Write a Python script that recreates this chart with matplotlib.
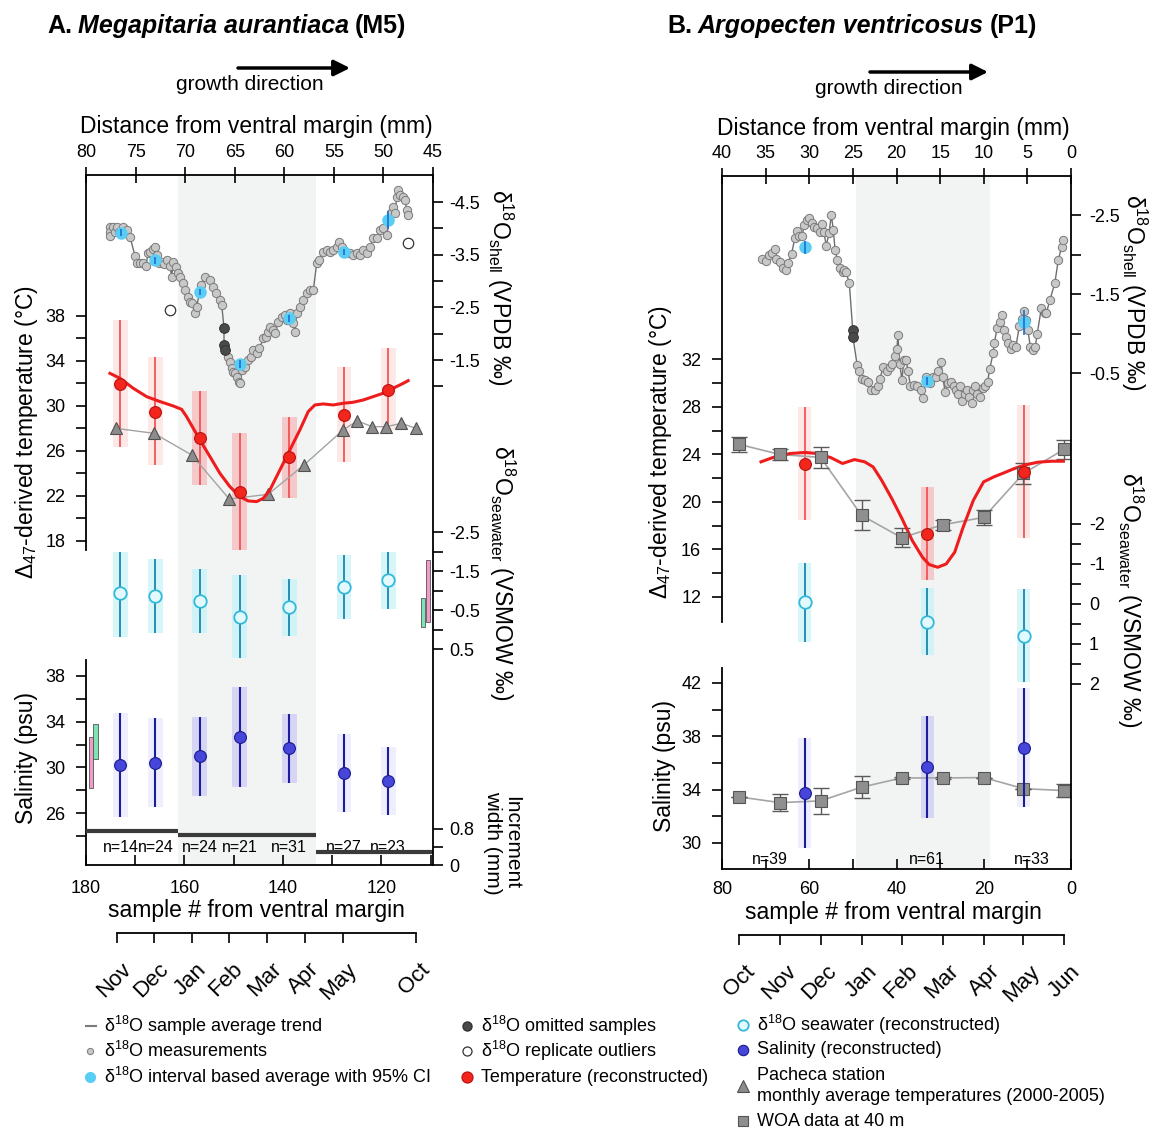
import numpy as np
import matplotlib.pyplot as plt
from matplotlib.transforms import ScaledTranslation, blended_transform_factory

plt.rcParams['font.family'] = ['Liberation Sans', 'DejaVu Sans']
plt.rcParams['mathtext.fontset'] = 'custom'
plt.rcParams['mathtext.rm'] = 'Liberation Sans'
plt.rcParams['mathtext.it'] = 'Liberation Sans:italic'
plt.rcParams['mathtext.bf'] = 'Liberation Sans:bold'
plt.rcParams['axes.unicode_minus'] = False
plt.rcParams['axes.linewidth'] = 1.3

# ---------------- panel A : Megapitaria aurantiaca (M5) ----------------
# shell d18O measurements (distance mm, permil VPDB)
sh_d_A = [77.58, 77.58, 77.58, 77.24, 77.07, 76.91, 76.64, 76.30, 76.07, 75.90, 75.56, 75.06, 74.89, 74.55,
          74.22, 73.98, 73.71, 73.54, 73.27, 73.04, 72.87, 72.60, 72.37, 72.10, 71.86, 71.53, 71.36, 71.19,
          70.92, 70.69, 70.52, 70.25, 70.01, 69.68, 69.51, 69.34, 69.00, 68.84, 68.40, 67.99, 67.49, 67.16,
          66.89, 66.48, 66.31, 66.08, 66.08, 65.98, 65.64, 65.47, 65.31, 65.14, 64.97, 64.80, 64.53, 64.47,
          64.30, 63.96, 63.62, 63.39, 63.12, 62.78, 62.51, 62.11, 61.88, 61.61, 61.44, 61.17, 60.93, 60.60,
          60.26, 59.93, 59.76, 59.42, 59.15, 58.92, 58.75, 58.41, 58.08, 57.74, 57.40, 57.07, 56.73, 56.46,
          56.13, 55.72, 55.39, 55.05, 54.71, 54.44, 54.21, 53.70, 53.37, 53.03, 52.70, 52.36, 52.02, 51.69,
          51.35, 51.02, 50.68, 50.34, 50.01, 49.67, 49.27, 49.00, 48.83, 48.66, 48.49, 48.33, 47.99, 47.82,
          47.65, 47.49]
sh_v_A = [-4.03, -3.94, -3.86, -4.03, -3.94, -4.03, -3.94, -4.03, -3.94, -3.97, -3.84, -3.48, -3.34, -3.34,
          -3.34, -3.29, -3.53, -3.56, -3.60, -3.65, -3.49, -3.34, -3.37, -3.32, -3.39, -3.29, -3.08, -3.37,
          -3.27, -3.15, -3.08, -2.96, -2.83, -2.70, -2.61, -2.58, -2.39, -2.51, -2.92, -3.08, -3.02, -2.89,
          -2.77, -2.64, -2.55, -2.10, -1.79, -1.69, -1.56, -1.47, -1.34, -1.28, -1.25, -1.18, -1.09, -1.06,
          -1.31, -1.37, -1.50, -1.56, -1.69, -1.63, -1.72, -1.91, -1.94, -2.04, -2.13, -2.07, -2.01, -2.23,
          -2.32, -2.36, -2.26, -2.39, -2.20, -2.04, -2.39, -2.51, -2.64, -2.77, -2.83, -2.83, -3.34, -3.40,
          -3.56, -3.59, -3.56, -3.59, -3.65, -3.75, -3.65, -3.53, -3.53, -3.49, -3.53, -3.49, -3.59, -3.53,
          -3.65, -3.81, -3.81, -3.97, -4.00, -3.87, -4.29, -4.41, -4.29, -4.60, -4.73, -4.63, -4.60, -4.54,
          -4.35, -4.25]
om_d_A = [66.08, 66.08, 65.98]
om_v_A = [-2.10, -1.79, -1.69]
out_d_A = [71.53, 47.49]
out_v_A = [-2.45, -3.73]
avg_d_A = [76.50, 73.04, 68.50, 64.50, 59.49, 53.94, 49.50]
avg_v_A = [-3.92, -3.39, -2.79, -1.42, -2.29, -3.55, -4.15]
avg_ci_A = [0.06, 0.06, 0.06, 0.08, 0.06, 0.06, 0.17]

# interval reconstructions (sample # from ventral margin)
iv_A = [173.0, 165.9, 156.9, 148.8, 138.7, 127.6, 118.6]
temp_A = [31.96, 29.50, 27.13, 22.33, 25.44, 29.20, 31.42]
temp_lo_A = [26.33, 24.76, 22.98, 17.20, 21.79, 25.05, 27.90]
temp_hi_A = [37.64, 34.38, 31.33, 27.57, 28.99, 33.49, 35.13]
sw_A = [-0.93, -0.86, -0.73, -0.33, -0.57, -1.09, -1.26]
sw_lo_A = [-2.00, -1.81, -1.55, -1.40, -1.29, -1.91, -1.98]
sw_hi_A = [0.18, 0.10, 0.10, 0.74, 0.17, -0.26, -0.53]
sal_A = [30.20, 30.41, 31.02, 32.66, 31.66, 29.53, 28.83]
sal_lo_A = [25.68, 26.50, 27.52, 28.25, 28.66, 26.12, 25.82]
sal_hi_A = [34.73, 34.35, 34.44, 37.01, 34.67, 32.92, 31.81]
n_A = [14, 24, 24, 21, 31, 27, 23]

# temperature from d18O (smoothed)
red_x_A = [175.13, 173.09, 170.39, 167.68, 164.97, 162.27, 160.57, 159.56, 158.20, 156.85, 154.82, 152.79,
           150.76, 148.73, 147.04, 145.34, 143.99, 142.64, 140.61, 138.58, 136.55, 134.85, 133.50, 131.81,
           129.78, 127.75, 125.72, 123.69, 121.66, 119.63, 117.60, 115.57, 114.55]
red_T_A = [32.90, 32.46, 31.57, 30.83, 30.39, 30.00, 29.70, 29.05, 28.01, 26.98, 25.50, 24.01, 22.83, 21.94,
           21.56, 21.50, 21.79, 22.53, 24.31, 26.09, 27.87, 29.50, 30.09, 30.18, 30.09, 30.24, 30.33, 30.53,
           30.83, 31.13, 31.57, 32.01, 32.25]

# Pacheca station monthly temperatures
pach_x_A = [173.9, 166.2, 158.5, 150.9, 143.0, 135.7, 127.75, 124.9, 121.8, 119.0, 115.9, 113.0]
pach_T_A = [28.01, 27.57, 25.64, 21.73, 22.15, 24.76, 27.87, 28.67, 28.16, 28.16, 28.46, 28.01]

# increment width (mm) per growth segment
inc_edges_A = [180, 161.3, 133.2, 109.5]
inc_w_A = [0.76, 0.67, 0.29]

# observed ranges (pink / green bars)
rng_sal_x_A = [179.0, 178.05]
rng_sal_lo_A = [28.16, 30.70]
rng_sal_hi_A = [32.69, 33.80]
rng_sw_x_A = [110.5, 111.5]
rng_sw_lo_A = [-1.77, -0.80]
rng_sw_hi_A = [-0.20, -0.07]

winter_A = (161.3, 133.2)
month_pos_A = [173.7, 166.2, 158.5, 151.0, 143.2, 135.5, 127.8, 113.0]
month_lab_A = ['Nov', 'Dec', 'Jan', 'Feb', 'Mar', 'Apr', 'May', 'Oct']

# ---------------- panel B : Argopecten ventricosus (P1) ----------------
sh_d_B = [35.41, 34.95, 34.56, 34.28, 33.97, 33.78, 33.39, 33.00, 32.61, 32.42, 32.03, 31.64, 31.44, 31.13,
          30.86, 30.55, 30.27, 30.00, 29.69, 29.42, 29.10, 28.79, 28.52, 28.33, 28.05, 27.74, 27.47, 27.24,
          27.04, 26.77, 26.50, 26.18, 25.99, 25.80, 25.41, 25.02, 24.98, 24.51, 24.35, 23.96, 23.57, 23.26,
          22.87, 22.48, 22.17, 21.90, 21.51, 21.12, 20.73, 20.46, 20.15, 19.95, 19.84, 19.64, 19.37, 19.17,
          18.90, 18.67, 18.40, 18.01, 17.62, 17.23, 16.92, 16.64, 16.18, 15.86, 15.48, 15.20, 14.89, 14.70,
          14.42, 14.11, 13.72, 13.41, 13.14, 12.94, 12.75, 12.44, 12.16, 11.97, 11.66, 11.39, 11.19, 11.00,
          10.73, 10.41, 10.10, 9.83, 9.56, 9.32, 8.93, 8.78, 8.47, 8.15, 7.88, 7.69, 7.49, 7.22, 6.91, 6.60,
          6.32, 5.93, 5.62, 5.43, 5.15, 4.96, 4.65, 4.38, 4.10, 3.87, 3.40, 3.01, 2.82, 2.43, 1.85, 1.46,
          1.07, 0.87]
sh_v_B = [-1.94, -1.92, -1.99, -2.02, -2.07, -1.94, -1.91, -1.83, -1.80, -1.89, -2.01, -2.21, -2.30, -2.23,
          -2.23, -2.37, -2.44, -2.46, -2.40, -2.35, -2.33, -2.29, -2.39, -2.29, -2.11, -2.27, -2.50, -2.31,
          -2.06, -1.93, -1.83, -1.78, -1.80, -1.78, -1.64, -1.05, -0.95, -0.60, -0.52, -0.43, -0.41, -0.39,
          -0.29, -0.29, -0.33, -0.43, -0.58, -0.52, -0.58, -0.61, -0.71, -0.81, -0.98, -0.62, -0.41, -0.66,
          -0.66, -0.52, -0.33, -0.35, -0.33, -0.29, -0.19, -0.45, -0.37, -0.45, -0.45, -0.52, -0.64, -0.45,
          -0.26, -0.37, -0.39, -0.33, -0.29, -0.24, -0.33, -0.14, -0.24, -0.29, -0.20, -0.12, -0.29, -0.34,
          -0.23, -0.20, -0.31, -0.33, -0.39, -0.55, -0.75, -0.88, -1.07, -1.15, -1.23, -1.05, -0.95, -0.88,
          -0.81, -0.86, -0.83, -1.09, -1.19, -1.28, -1.17, -1.05, -0.83, -0.79, -0.83, -1.00, -1.32, -1.26,
          -1.26, -1.42, -1.64, -1.93, -2.10, -2.19]
om_d_B = [25.02, 24.98]
om_v_B = [-1.05, -0.95]
avg_d_B = [30.47, 16.45, 5.43]
avg_v_B = [-2.09, -0.40, -1.14]
avg_ci_B = [0.08, 0.05, 0.16]

iv_B = [61.0, 32.9, 10.8]
temp_B = [23.18, 17.32, 22.53]
temp_lo_B = [18.50, 13.43, 17.00]
temp_hi_B = [27.97, 21.26, 28.20]
sw_B = [-0.04, 0.44, 0.79]
sw_lo_B = [-1.02, -0.39, -0.37]
sw_hi_B = [0.94, 1.28, 1.96]
sal_B = [33.73, 35.68, 37.12]
sal_lo_B = [29.60, 31.90, 32.67]
sal_hi_B = [37.85, 39.52, 41.65]
n_B = [39, 61, 33]
n_pos_B = [69, 33, 9]

red_x_B = [71.06, 68.33, 64.44, 60.93, 58.20, 55.09, 52.37, 49.64, 47.30, 45.36, 43.41, 41.07, 38.73, 36.40,
           34.06, 32.50, 30.56, 28.61, 26.66, 24.72, 22.38, 20.04, 17.70, 15.37, 13.03, 10.69, 7.58, 4.46, 1.74]
red_T_B = [23.38, 23.74, 24.08, 24.17, 24.08, 23.74, 23.24, 23.57, 23.38, 22.95, 21.83, 20.28, 18.59, 16.76,
           15.35, 14.73, 14.50, 14.78, 15.77, 17.88, 20.14, 21.69, 22.11, 22.45, 22.81, 23.10, 23.35, 23.43, 23.43]

# WOA data at 40 m (monthly)
woa_x = [76.1, 66.7, 57.4, 48.0, 38.8, 29.4, 20.0, 10.9, 1.5]
woa_T = [24.85, 24.00, 23.75, 18.87, 16.99, 18.08, 18.70, 22.40, 24.45]
woa_T_err = [0.66, 0.50, 0.92, 1.27, 0.79, 0.40, 0.60, 0.90, 0.80]
woa_S = [33.45, 33.02, 33.15, 34.18, 34.87, 34.87, 34.90, 34.07, 33.92]
woa_S_err = [0.0, 0.64, 0.99, 0.81, 0.10, 0.10, 0.0, 0.0, 0.48]

winter_B = (49.3, 18.6)
month_lab_B = ['Oct', 'Nov', 'Dec', 'Jan', 'Feb', 'Mar', 'Apr', 'May', 'Jun']

# ---------------- styling ----------------
SHADE = '#F2F4F3'
W, H = 1150, 1130
fig = plt.figure(figsize=(W / 100, H / 100), dpi=100)


def box(l, t, r, b):
    return [l / W, 1 - b / H, (r - l) / W, (b - t) / H]


def layer(rect, xlim, ylim):
    a = fig.add_axes(rect)
    a.set_xlim(xlim)
    a.set_ylim(ylim)
    a.patch.set_visible(False)
    for s in a.spines.values():
        s.set_visible(False)
    a.set_xticks([])
    a.set_yticks([])
    return a


def yscale(a, side, major, minor, labels, bounds=None, pad=5):
    a.yaxis.set_ticks_position(side)
    a.set_yticks(major)
    a.set_yticks(minor, minor=True)
    a.set_yticklabels(labels)
    a.tick_params(axis='y', which='both', direction='out', length=7, width=1.2, labelsize=13, pad=pad)
    if bounds is not None:
        sp = a.spines[side]
        sp.set_visible(True)
        sp.set_bounds(*bounds)


def ci_bars(a, x, lo, hi, light, dark, winter, zorder=1):
    cols = [dark if winter[1] < xi < winter[0] else light for xi in x]
    a.bar(x, np.subtract(hi, lo), bottom=lo, width=3.0, color=cols, lw=0, zorder=zorder)


def month_axis(y, l, r, xlim, pos, labels, dx):
    a = fig.add_axes([l / W, 1 - y / H, (r - l) / W, 0.001])
    a.set_xlim(xlim)
    a.patch.set_visible(False)
    for k, s in a.spines.items():
        s.set_visible(k == 'bottom')
    a.spines['bottom'].set_bounds(pos[0], pos[-1])
    a.set_yticks([])
    a.set_xticks(pos)
    a.set_xticklabels(labels, rotation=45, ha='right', va='center', rotation_mode='anchor')
    a.tick_params(axis='x', direction='out', length=7, width=1.2, labelsize=16, pad=17)
    off = ScaledTranslation(dx / 100, 0, fig.dpi_scale_trans)
    for lab in a.get_xticklabels():
        lab.set_transform(lab.get_transform() + off)


def shell(a, d, v, om_d, om_v, avg_d, avg_v, avg_ci, out_d=None, out_v=None):
    a.plot(d, v, '-', color='#6E6E6E', lw=1.0, zorder=2)
    a.plot(d, v, 'o', ms=6, mfc='#C8C8C8', mec='#7A7A7A', mew=0.7, zorder=3)
    a.plot(om_d, om_v, 'o', ms=7, mfc='#4A4A4A', mec='#333333', mew=0.7, zorder=4)
    if out_d is not None:
        a.plot(out_d, out_v, 'o', ms=7.5, mfc='white', mec='#333333', mew=0.9, zorder=4)
    a.plot(avg_d, avg_v, 'o', ms=8, mfc='#5ACDF4', mec='#5ACDF4', zorder=5)
    a.vlines(avg_d, np.subtract(avg_v, avg_ci), np.add(avg_v, avg_ci), color='#1E6FD0', lw=1.2, zorder=6)


# ======================= PANEL A =======================
rA = box(86, 175, 433, 865)
aT = layer(rA, (180, 109.5), (-10.8, 50.53))
aT.axvspan(*winter_A, color=SHADE, lw=0, zorder=0)
aT.spines['bottom'].set_visible(True)
aT.set_xticks([180, 160, 140, 120])
aT.set_xticks([170, 150, 130, 110], minor=True)
aT.tick_params(axis='x', which='both', direction='in', length=7, width=1.2, labelsize=13, pad=11)
yscale(aT, 'left', [18, 22, 26, 30, 34, 38], [20, 24, 28, 32, 36],
       ['18', '22', '26', '30', '34', '38'], bounds=(17.2, 50.53), pad=8)

ci_bars(aT, iv_A, temp_lo_A, temp_hi_A, '#FDE8E8', '#F5C9C9', winter_A)
aT.vlines(iv_A, temp_lo_A, temp_hi_A, color='#F04A4A', lw=1.2, zorder=2)
aT.plot(pach_x_A, pach_T_A, '-', color='#A3A3A3', lw=1.0, zorder=3)
aT.plot(pach_x_A, pach_T_A, '^', ms=9, mfc='#8C8C8C', mec='#505050', mew=0.8, zorder=3)
aT.plot(red_x_A, red_T_A, '-', color='#EE1C1C', lw=2.2, zorder=4)
aT.plot(iv_A, temp_A, 'o', ms=8.5, mfc='#F2261C', mec='#B81010', mew=0.8, zorder=5)
tr = blended_transform_factory(aT.transData, aT.transAxes)
for xi, n in zip(iv_A, n_A):
    aT.text(xi, 0.026, f'n={n}', transform=tr, ha='center', va='center', fontsize=11.5, zorder=6)

aS = layer(rA, (180, 109.5), (21.45, 81.87))
yscale(aS, 'left', [26, 30, 34, 38], [24, 28, 32, 36], ['26', '30', '34', '38'], bounds=(21.45, 39.4), pad=8)
ci_bars(aS, iv_A, sal_lo_A, sal_hi_A, '#EEEEFD', '#D6D6F4', winter_A)
aS.vlines(iv_A, sal_lo_A, sal_hi_A, color='#1C1C9C', lw=1.5, zorder=2)
aS.plot(iv_A, sal_A, 'o', ms=8.5, mfc='#4646DA', mec='#1A1A8A', mew=0.8, zorder=5)
aS.bar(rng_sal_x_A, np.subtract(rng_sal_hi_A, rng_sal_lo_A), bottom=rng_sal_lo_A, width=[0.8, 0.9],
       color=['#F29BCB', '#7EE3B5'], edgecolor='#555555', lw=0.6, zorder=3)

aSW = layer(rA, (180, 109.5), (6.038, -11.654))
yscale(aSW, 'right', [-2.5, -1.5, -0.5, 0.5], [-2, -1, 0], ['-2.5', '-1.5', '-0.5', '0.5'])
ci_bars(aSW, iv_A, sw_lo_A, sw_hi_A, '#D6F6FA', '#D0F3F8', winter_A)
aSW.vlines(iv_A, sw_lo_A, sw_hi_A, color='#2A8DB5', lw=1.4, zorder=2)
aSW.plot(iv_A, sw_A, 'o', ms=9, mfc='#E2FAFD', mec='#33B8DA', mew=1.3, zorder=5)
aSW.bar(rng_sw_x_A, np.subtract(rng_sw_hi_A, rng_sw_lo_A), bottom=rng_sw_lo_A, width=[0.7, 0.95],
        color=['#F29BCB', '#7EE3B5'], edgecolor='#555555', lw=0.6, zorder=3)

aW = layer(rA, (180, 109.5), (0, 15.33))
yscale(aW, 'right', [0, 0.8], [0.4], ['0', '0.8'])
aW.hlines(inc_w_A, inc_edges_A[:-1], inc_edges_A[1:], color='#3A3A3A', lw=3)

aSH = layer(rA, (80, 45), (8.088, -5.013))
aSH.spines['top'].set_visible(True)
aSH.spines['right'].set_visible(True)
aSH.xaxis.set_ticks_position('top')
aSH.set_xticks([80, 75, 70, 65, 60, 55, 50, 45])
aSH.tick_params(axis='x', direction='inout', length=12, width=1.2, labelsize=13, pad=4)
yscale(aSH, 'right', [-4.5, -3.5, -2.5, -1.5], [-4, -3, -2, -1], ['-4.5', '-3.5', '-2.5', '-1.5'])
aSH.spines['right'].set_visible(True)
shell(aSH, sh_d_A, sh_v_A, om_d_A, om_v_A, avg_d_A, avg_v_A, avg_ci_A, out_d_A, out_v_A)

month_axis(933, 86, 433, (180, 109.5), month_pos_A, month_lab_A, 11)

# ======================= PANEL B =======================
rB = box(722, 176, 1071, 869)
bT = layer(rB, (80, 0), (-10.91, 47.45))
bT.axvspan(*winter_B, color=SHADE, lw=0, zorder=0)
bT.spines['bottom'].set_visible(True)
bT.set_xticks([80, 60, 40, 20, 0])
bT.set_xticks([70, 50, 30, 10], minor=True)
bT.tick_params(axis='x', which='both', direction='in', length=7, width=1.2, labelsize=13, pad=9)
yscale(bT, 'left', [12, 16, 20, 24, 28, 32], [14, 18, 22, 26, 30],
       ['12', '16', '20', '24', '28', '32'], bounds=(9.9, 47.45), pad=8)

ci_bars(bT, iv_B, temp_lo_B, temp_hi_B, '#FDE8E8', '#F5C9C9', winter_B)
bT.vlines(iv_B, temp_lo_B, temp_hi_B, color='#F04A4A', lw=1.2, zorder=2)
bT.plot(woa_x, woa_T, '-', color='#A5A5A5', lw=1.2, zorder=3)
bT.errorbar(woa_x, woa_T, yerr=woa_T_err, fmt='none', ecolor='#5A5A5A', elinewidth=1.0, capsize=6,
            capthick=1.0, zorder=3)
bT.plot(red_x_B, red_T_B, '-', color='#EE1C1C', lw=2.2, zorder=4)
bT.plot(woa_x, woa_T, 's', ms=9, mfc='#8F8F8F', mec='#555555', mew=0.8, zorder=4, clip_on=False)
bT.plot(iv_B, temp_B, 'o', ms=8.5, mfc='#F2261C', mec='#B81010', mew=0.8, zorder=5)
trB = blended_transform_factory(bT.transData, bT.transAxes)
for xi, n in zip(n_pos_B, n_B):
    bT.text(xi, 0.0144, f'n={n}', transform=trB, ha='center', va='center', fontsize=11.5, zorder=6)

bS = layer(rB, (80, 0), (28.04, 80.03))
yscale(bS, 'left', [30, 34, 38, 42], [32, 36, 40], ['30', '34', '38', '42'], bounds=(28.04, 43.1), pad=8)
ci_bars(bS, iv_B, sal_lo_B, sal_hi_B, '#EEEEFD', '#D6D6F4', winter_B)
bS.plot(woa_x, woa_S, '-', color='#A5A5A5', lw=1.2, zorder=3)
bS.errorbar(woa_x, woa_S, yerr=woa_S_err, fmt='none', ecolor='#5A5A5A', elinewidth=1.0, capsize=6,
            capthick=1.0, zorder=3)
bS.plot(woa_x, woa_S, 's', ms=9, mfc='#8F8F8F', mec='#555555', mew=0.8, zorder=4, clip_on=False)
bS.vlines(iv_B, sal_lo_B, sal_hi_B, color='#1C1C9C', lw=1.5, zorder=5)
bS.plot(iv_B, sal_B, 'o', ms=8.5, mfc='#4646DA', mec='#1A1A8A', mew=0.8, zorder=6)

bSW = layer(rB, (80, 0), (6.625, -10.7))
yscale(bSW, 'right', [-2, -1, 0, 1, 2], [-1.5, -0.5, 0.5, 1.5], ['-2', '-1', '0', '1', '2'], pad=6)
ci_bars(bSW, iv_B, sw_lo_B, sw_hi_B, '#D6F6FA', '#D0F3F8', winter_B)
bSW.vlines(iv_B, sw_lo_B, sw_hi_B, color='#2A8DB5', lw=1.4, zorder=2)
bSW.plot(iv_B, sw_B, 'o', ms=9, mfc='#E2FAFD', mec='#33B8DA', mew=1.3, zorder=5)

bSH = layer(rB, (40, 0), (5.778, -2.994))
bSH.spines['top'].set_visible(True)
bSH.xaxis.set_ticks_position('top')
bSH.set_xticks([40, 35, 30, 25, 20, 15, 10, 5, 0])
bSH.tick_params(axis='x', direction='inout', length=12, width=1.2, labelsize=13, pad=4)
yscale(bSH, 'right', [-2.5, -1.5, -0.5], [-2, -1], ['-2.5', '-1.5', '-0.5'], pad=6)
bSH.spines['right'].set_visible(True)
shell(bSH, sh_d_B, sh_v_B, om_d_B, om_v_B, avg_d_B, avg_v_B, avg_ci_B)

month_axis(935, 722, 1071, (80, 0), woa_x, month_lab_B, 13)

# ======================= texts & legend =======================
ov = fig.add_axes([0, 0, 1, 1])
ov.set_xlim(0, W)
ov.set_ylim(H, 0)
ov.axis('off')
rend = fig.canvas.get_renderer()


def title(x, y, parts):
    for s, st in parts:
        t = ov.text(x, y, s, fontsize=18, fontweight='bold', fontstyle=st, va='baseline', ha='left')
        x += t.get_window_extent(rend).width + 6


title(47, 33, [('A.', 'normal'), ('Megapitaria aurantiaca', 'italic'), ('(M5)', 'normal')])
title(667, 33, [('B.', 'normal'), ('Argopecten ventricosus', 'italic'), ('(P1)', 'normal')])

for (x0, x1, y, tx, ty) in [(238, 350, 68, 250, 85), (870, 988, 72, 889, 89)]:
    ov.annotate('', xy=(x1, y), xytext=(x0, y),
                arrowprops=dict(arrowstyle='-|>', lw=2.5, color='black', mutation_scale=24, shrinkA=0, shrinkB=0))
    ov.text(tx, ty, 'growth direction', fontsize=15, ha='center', va='center')

LAB = 16.5
ov.text(256, 127, 'Distance from ventral margin (mm)', fontsize=LAB, ha='center', va='center')
ov.text(893, 128, 'Distance from ventral margin (mm)', fontsize=LAB, ha='center', va='center')
ov.text(256, 911, 'sample # from ventral margin', fontsize=LAB, ha='center', va='center')
ov.text(893, 913, 'sample # from ventral margin', fontsize=LAB, ha='center', va='center')
ov.text(27, 432, 'Δ$_{47}$-derived temperature (°C)', fontsize=LAB, rotation=90, ha='center', va='center')
ov.text(660, 452, 'Δ$_{47}$-derived temperature (°C)', fontsize=LAB, rotation=90, ha='center', va='center')
ov.text(26, 758, 'Salinity (psu)', fontsize=LAB, rotation=90, ha='center', va='center')
ov.text(665, 766, 'Salinity (psu)', fontsize=LAB, rotation=90, ha='center', va='center')
ov.text(500, 287, 'δ$^{18}$O$_{\\rm shell}$ (VPDB ‰)', fontsize=LAB, rotation=270, ha='center', va='center')
ov.text(1134, 292, 'δ$^{18}$O$_{\\rm shell}$ (VPDB ‰)', fontsize=LAB, rotation=270, ha='center', va='center')
ov.text(502, 573, 'δ$^{18}$O$_{\\rm seawater}$ (VSMOW ‰)', fontsize=LAB, rotation=270, ha='center', va='center')
ov.text(1130, 600, 'δ$^{18}$O$_{\\rm seawater}$ (VSMOW ‰)', fontsize=LAB, rotation=270, ha='center', va='center')
ov.text(502, 843, 'Increment\nwidth (mm)', fontsize=15, rotation=270, ha='center', va='center',
        linespacing=1.0)

LEG = 13
legend_rows = [
    (90, 1026, 'line', 'δ$^{18}$O sample average trend'),
    (90, 1051, 'meas', 'δ$^{18}$O measurements'),
    (90, 1077, 'avg', 'δ$^{18}$O interval based average with 95% CI'),
    (467, 1026, 'omit', 'δ$^{18}$O omitted samples'),
    (467, 1051, 'outl', 'δ$^{18}$O replicate outliers'),
    (467, 1077, 'temp', 'Temperature (reconstructed)'),
    (743, 1025, 'sw', 'δ$^{18}$O seawater (reconstructed)'),
    (743, 1050, 'sal', 'Salinity (reconstructed)'),
    (743, 1086, 'tri', 'Pacheca station\nmonthly average temperatures (2000-2005)'),
    (743, 1121, 'sq', 'WOA data at 40 m'),
]
styles = {
    'meas': dict(marker='o', ms=4.5, mfc='#C8C8C8', mec='#7A7A7A', mew=0.7),
    'avg': dict(marker='o', ms=7, mfc='#5ACDF4', mec='#5ACDF4'),
    'omit': dict(marker='o', ms=6.5, mfc='#4A4A4A', mec='#333333'),
    'outl': dict(marker='o', ms=6.5, mfc='white', mec='#333333', mew=0.9),
    'temp': dict(marker='o', ms=8, mfc='#F2261C', mec='#B81010', mew=0.8),
    'sw': dict(marker='o', ms=7.5, mfc='#E2FAFD', mec='#33B8DA', mew=1.3),
    'sal': dict(marker='o', ms=7.5, mfc='#4646DA', mec='#1A1A8A', mew=0.8),
    'tri': dict(marker='^', ms=8, mfc='#8C8C8C', mec='#505050', mew=0.8),
    'sq': dict(marker='s', ms=7.5, mfc='#8F8F8F', mec='#555555', mew=0.8),
}
for x, y, kind, label in legend_rows:
    if kind == 'line':
        ov.plot([x - 4, x + 6], [y, y], color='#7A7A7A', lw=1.5)
    else:
        ov.plot([x], [y], ls='none', **styles[kind])
    ov.text(x + 14, y, label, fontsize=LEG, ha='left', va='center', linespacing=1.35)

fig.savefig('out.png', dpi=100)
